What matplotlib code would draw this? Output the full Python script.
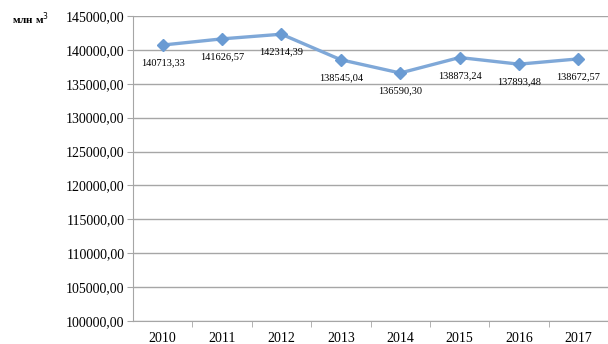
import matplotlib
matplotlib.use("Agg")
import matplotlib.pyplot as plt
from matplotlib.ticker import FuncFormatter, MultipleLocator

years = ["2010", "2011", "2012", "2013", "2014", "2015", "2016", "2017"]
volumes = [140713.33, 141626.57, 142314.39, 138545.04, 136590.30,
           138873.24, 137893.48, 138672.57]

plt.rcParams["font.family"] = ["Liberation Serif", "DejaVu Serif"]

fig = plt.figure(figsize=(6.08, 3.44), dpi=100)
ax = fig.add_axes([133 / 608, 1 - 321 / 344, 475 / 608, 305 / 344])

x = list(range(len(years)))
ax.plot(x, volumes, color="#7FA8D8", lw=2.4, marker="D", ms=6.5,
        mfc="#6A9BD3", mec="#6A9BD3", zorder=3, clip_on=False)

for xi, v in zip(x, volumes):
    label = f"{v:.2f}".replace(".", ",")
    ax.annotate(label, (xi, v), xytext=(0, -13), textcoords="offset points",
                ha="center", va="center", fontsize=7.5, color="#000000")

ax.set_xlim(-0.5, len(years) - 0.5)
ax.set_ylim(100000, 145000)
ax.yaxis.set_major_locator(MultipleLocator(5000))
ax.yaxis.set_major_formatter(FuncFormatter(lambda v, p: f"{v:.2f}".replace(".", ",")))
ax.grid(axis="y", color="#A6A6A6", lw=1)
ax.set_axisbelow(True)

ax.set_xticks(x)
ax.set_xticklabels(years)
ax.set_xticks([i + 0.5 for i in range(len(years) - 1)], minor=True)
ax.tick_params(axis="x", which="major", length=0, labelsize=10, pad=8)
ax.tick_params(axis="x", which="minor", length=4, color="#A6A6A6", direction="out")
ax.tick_params(axis="y", length=4, color="#A6A6A6", labelsize=10, pad=2)

for side in ("top", "right"):
    ax.spines[side].set_visible(False)
for side in ("left", "bottom"):
    ax.spines[side].set_color("#A6A6A6")

fig.text(12 / 608, 1 - 19 / 344, "млн м$^3$", fontsize=8, fontweight="bold",
         va="center", ha="left")

fig.savefig("out.png", dpi=100)
